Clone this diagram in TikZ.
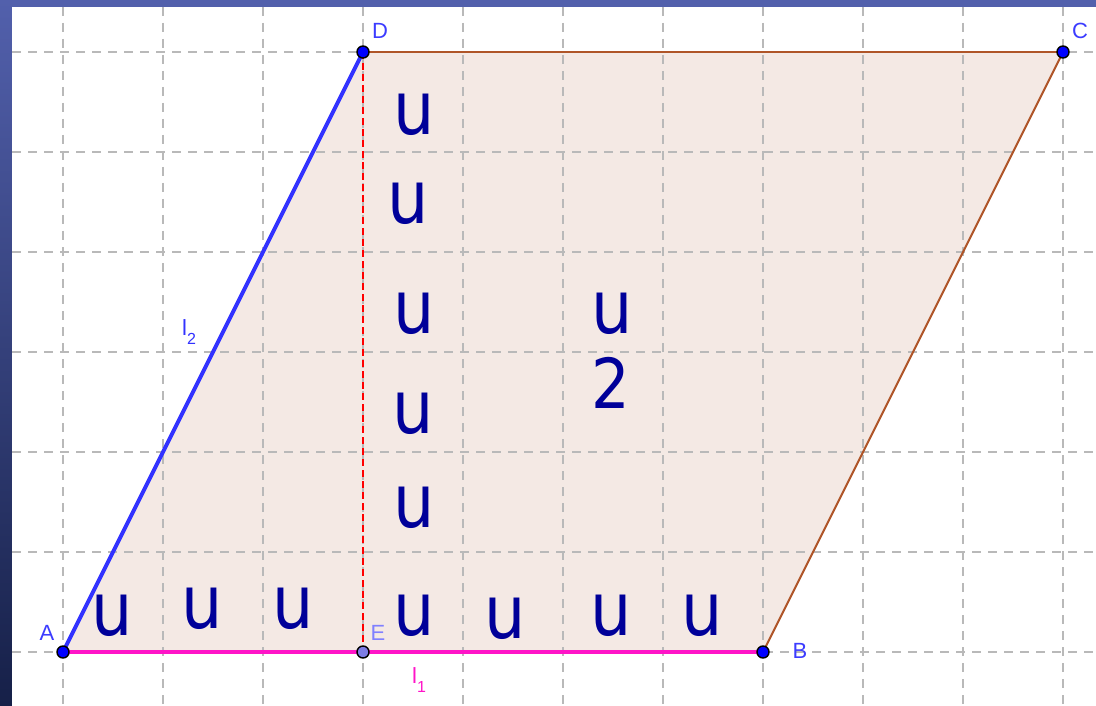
\documentclass[tikz,border=0pt]{standalone}
\usepackage{fontspec}
\usepackage{graphicx}
\newfontfamily\ufont{DejaVu Sans}
\newfontfamily\lblfont{Liberation Sans}
\newcommand\narrowglyph[1]{\scalebox{0.88}[1]{#1}}
\definecolor{navy}{RGB}{0,0,153}
\definecolor{lblblue}{RGB}{60,60,255}
\definecolor{lblpale}{RGB}{128,128,255}
\definecolor{ptblue}{RGB}{0,0,255}
\definecolor{ptpale}{RGB}{125,125,230}
\definecolor{polyfill}{RGB}{244,233,228}
\definecolor{brownedge}{RGB}{175,85,40}
\definecolor{magentaedge}{RGB}{255,20,200}
\definecolor{blueedge}{RGB}{50,50,255}
\definecolor{gridgray}{RGB}{185,185,185}
\definecolor{frametop}{RGB}{82,96,172}
\definecolor{framebot}{RGB}{22,32,72}
\begin{document}
\begin{tikzpicture}[x=1pt,y=-1pt,
  ulab/.style={anchor=base, inner sep=0pt, text=navy, font=\ufont\fontsize{74}{74}\selectfont},
  digitlab/.style={anchor=base, inner sep=0pt, text=navy, font=\ufont\fontsize{69}{69}\selectfont},
  ptlab/.style={anchor=base, inner sep=0pt, text=lblblue, font=\lblfont\fontsize{22}{22}\selectfont},
  dot/.style={circle, draw=black, line width=1.4pt, fill=ptblue, minimum size=12pt, inner sep=0pt},
  gridline/.style={draw=gridgray, line width=1.6pt, dash pattern=on 9pt off 7pt},
  thinedge/.style={draw=brownedge, line width=2pt},
]
\useasboundingbox (0,0) rectangle (1096,706);
% slide background
\shade[top color=frametop, bottom color=framebot] (0,0) rectangle (1096,706);
\fill[white] (12,7) rectangle (1096,706);
% points
\coordinate (A) at (63,652);
\coordinate (B) at (763,652);
\coordinate (C) at (1063,52);
\coordinate (D) at (363,52);
\coordinate (E) at (363,652);
% polygon fill
\fill[polyfill] (A) -- (B) -- (C) -- (D) -- cycle;
% grid
\foreach \gx in {63,163,...,1063} \draw[gridline] (\gx,7) -- (\gx,706);
\foreach \gy in {52,152,...,652} \draw[gridline] (12,\gy) -- (1096,\gy);
% edges
\draw[thinedge] (B) -- (C);
\draw[thinedge] (C) -- (D);
\draw[red, line width=1.5pt, dash pattern=on 7pt off 4pt] (D) -- (E);
\draw[magentaedge, line width=4pt] (A) -- (B);
\draw[blueedge, line width=4pt] (A) -- (D);
% dots
\node[dot] (pA) at (A) {};
\node[dot] (pB) at (B) {};
\node[dot] (pC) at (C) {};
\node[dot] (pD) at (D) {};
\node[dot, fill=ptpale] (pE) at (E) {};
% point labels
\node[ptlab] (lD) at (380,39) {D};
\node[ptlab] (lC) at (1080,39) {C};
\node[ptlab] (lA) at (47,640) {A};
\node[ptlab, text=lblpale] (lE) at (378,640) {E};
\node[ptlab] (lB) at (800,658) {B};
% segment labels
\node[ptlab, anchor=base west, text=magentaedge] (l1) at (412,683) {l\raisebox{-0.45em}{\fontsize{16}{16}\selectfont 1}};
\node[ptlab, anchor=base west, text=blueedge] (l2) at (182,335) {l\raisebox{-0.45em}{\fontsize{16}{16}\selectfont 2}};
% unit labels
\node[ulab] (u1) at (414,135) {\narrowglyph{u}};
\node[ulab] (u2) at (408,223) {\narrowglyph{u}};
\node[ulab] (u3) at (414,333) {\narrowglyph{u}};
\node[ulab] (u4) at (413,433) {\narrowglyph{u}};
\node[ulab] (u5) at (414,527) {\narrowglyph{u}};
\node[ulab] (u6) at (414,635) {\narrowglyph{u}};
\node[ulab] (u7) at (505,638) {\narrowglyph{u}};
\node[ulab] (u8) at (611,635) {\narrowglyph{u}};
\node[ulab] (u9) at (702,635) {\narrowglyph{u}};
\node[ulab] (u10) at (112,635) {\narrowglyph{u}};
\node[ulab] (u11) at (202,628) {\narrowglyph{u}};
\node[ulab] (u12) at (293,628) {\narrowglyph{u}};
\node[ulab] (um) at (612,333) {\narrowglyph{u}};
\node[digitlab] (two) at (611,408) {\narrowglyph{2}};
\end{tikzpicture}
\end{document}
